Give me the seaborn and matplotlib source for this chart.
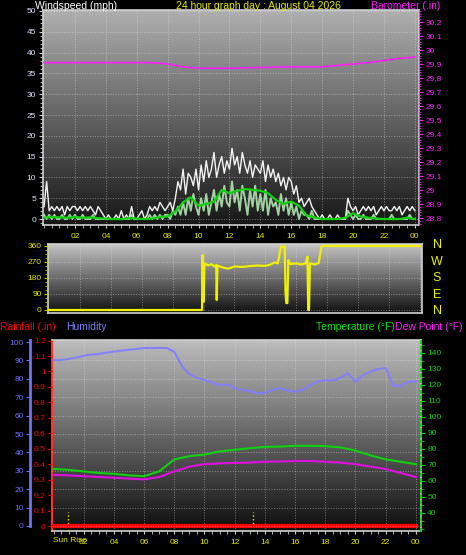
import numpy as np
import pandas as pd
import seaborn as sns
import matplotlib
matplotlib.use("Agg")
import matplotlib.pyplot as plt
from matplotlib.colors import LinearSegmentedColormap
from matplotlib.ticker import MultipleLocator

# wind speed, 10 minute samples from 00:00 to 24:00 (mph)
gust_mph = [3, 9, 2, 3, 2, 3,  2, 3, 1, 3, 2, 3,  3, 2, 3, 2, 3, 2,  3, 2, 1, 3, 2, 1,
            0, 1, 0, 0, 1, 0,  2, 0, 1, 0, 3, 0,  0, 1, 2, 0, 1, 3,  2, 3, 2, 4, 3, 2,
            3, 4, 2, 5, 9, 7,  12, 6, 11, 10, 8, 12,  7, 13, 9, 14, 10, 12,  16, 10, 13, 15, 11, 14,
            12, 17, 13, 15, 11, 16,  13, 11, 14, 10, 13, 12,  11, 14, 9, 13, 10, 12,  9, 11, 8, 10, 7, 10,
            9, 6, 8, 4, 5, 3,  4, 5, 3, 2, 1, 0,  1, 0, 0, 1, 0, 0,  1, 0, 0, 0, 5, 3,
            2, 3, 1, 2, 3, 2,  3, 2, 3, 1, 2, 3,  2, 3, 2, 2, 3, 2,  3, 1, 2, 3, 2, 3,  2]
avg_mph = [1, 0, 1, 0, 1, 0,  0, 1, 0, 0, 1, 0,  1, 0, 0, 1, 0, 0,  0, 1, 0, 0, 0, 0,
           0, 0, 0, 0, 0, 0,  0, 0, 0, 0, 1, 0,  0, 0, 0, 0, 0, 1,  0, 1, 0, 1, 0, 1,
           1, 0, 2, 1, 3, 1,  4, 1, 5, 2, 6, 3,  1, 5, 2, 6, 1, 4,  7, 2, 6, 3, 8, 4,
           3, 9, 4, 7, 2, 8,  5, 1, 7, 3, 8, 2,  6, 2, 7, 1, 5, 3,  4, 1, 6, 2, 5, 1,
           4, 1, 3, 0, 2, 1,  1, 0, 2, 0, 0, 0,  0, 0, 0, 0, 0, 0,  0, 0, 0, 0, 2, 1,
           0, 1, 0, 0, 1, 0,  0, 0, 1, 0, 0, 0,  0, 0, 0, 1, 0, 0,  0, 0, 0, 0, 1, 0,  0]
# 30 minute trend line (mph)
trend_mph = [0.3, 0.5, 0.4, 0.3, 0.5, 0.3, 0.4, 0.2, 0.1, 0.0, 0.0, 0.2, 0.1, 0.0, 0.1, 0.5,
             0.6, 1.8, 4.0, 5.2, 3.2, 3.6, 4.2, 7.0, 6.2, 6.8, 7.2, 7.0, 6.8, 6.2, 4.6, 3.6,
             4.2, 3.2, 0.8, 0.4, 0.0, 0.0, 0.0, 0.3, 1.4, 0.6, 0.3, 0.1, 0.0, 0.0, 0.0, 0.3, 0.0]

baro_hours = [0, 2, 4, 6, 7, 8, 9, 10, 11, 12, 14, 16, 18, 19, 20, 21, 22, 23, 24]
baro_in = [29.91, 29.91, 29.91, 29.91, 29.91, 29.90, 29.88, 29.87, 29.87, 29.87, 29.875,
           29.88, 29.88, 29.89, 29.90, 29.91, 29.925, 29.94, 29.95]

dir_hours = [0, 9.9, 9.93, 9.97, 10.0, 10.05, 10.1, 10.3, 10.5, 10.7, 10.82, 10.85, 10.9, 11.2,
             11.6, 12.0, 12.5, 13.0, 13.5, 14.0, 14.3, 14.6, 14.8, 14.87, 15.0, 15.25, 15.3,
             15.35, 15.42, 15.48, 15.6, 16.0, 16.3, 16.6, 16.72, 16.77, 16.82, 16.88, 17.2,
             17.45, 17.53, 17.64, 24]
dir_deg = [0, 0, 309, 120, 47, 240, 262, 250, 258, 245, 252, 56, 250, 240,
           232, 245, 242, 247, 250, 248, 255, 268, 262, 292, 356, 356, 100,
           39, 39, 280, 259, 262, 256, 262, 300, 0, 0, 262, 256,
           265, 309, 360, 360]

clim_hours = list(range(25))
temp_f = [67.5, 67, 66, 65, 64.5, 63.5, 63, 66, 73.5, 75.5, 76.5, 78.5, 79.5, 80.5, 81.3,
          81.5, 82, 82, 81.8, 81, 79, 76, 73.5, 72, 70.5]
dew_f = [63.8, 63.5, 63, 62.5, 62, 61.5, 61, 62.5, 66, 69, 70.5, 71, 71.3, 71.5, 72, 72.2,
         72.5, 72.5, 72, 71.5, 70.5, 69, 67.5, 65, 62.5]
hum_pct = [90.2, 90.2, 90.8, 91.5, 92.5, 93.2, 93.5, 94.2, 94.8, 95.3, 95.8, 96.2, 96.7, 96.7,
           96.8, 96.7, 94.7, 87, 82.5, 80.5, 79.3, 78, 76.5, 77, 75, 74, 73.5, 72, 72.5, 74,
           75, 73.5, 73, 74, 76.6, 78.5, 79.3, 79, 80.5, 83, 78.4, 82, 84, 85.3, 85.9, 76.5,
           76, 78.4, 78.4]
rain_hours = [0, 24]
rain_in = [0, 0]

hour_ticks = [2, 4, 6, 8, 10, 12, 14, 16, 18, 20, 22, 24]
hour_labels = ['02', '04', '06', '08', '10', '12', '14', '16', '18', '20', '22', '00']
sun_hours = [0.95, 13.2]

wind_hours = np.arange(len(gust_mph)) / 6
trend_hours = np.arange(len(trend_mph)) / 2
hum_hours = np.arange(len(hum_pct)) / 2

W, H = 466, 555
plt.rcParams['font.family'] = ['Liberation Sans', 'DejaVu Sans']
fig = plt.figure(figsize=(W / 100, H / 100), dpi=100, facecolor='black')

YEL = '#e8e800'
TS = 7.5


def box(l, t, r, b):
    return [l / W, 1 - b / H, (r - l) / W, (b - t) / H]


def shade(ax, top, bottom):
    cmap = LinearSegmentedColormap.from_list('bg', [bottom, top])
    grad = np.linspace(0, 1, 256).reshape(-1, 1)
    ax.imshow(grad, extent=[0, 1, 0, 1], transform=ax.transAxes, origin='lower',
              aspect='auto', cmap=cmap, zorder=0)


def frame(ax):
    ax.set_facecolor('black')
    for s in ax.spines.values():
        s.set_color('#d0d0d0')
        s.set_linewidth(1.2)
    ax.grid(True, color='#e8e8e8', linestyle=':', linewidth=0.7, alpha=0.45)
    ax.set_axisbelow(False)


# ---------------- wind speed / barometer ----------------
ax1 = fig.add_axes(box(42.5, 10, 419, 225))
shade(ax1, '#b0b0b0', '#161616')
frame(ax1)
sns.lineplot(x=wind_hours, y=gust_mph, ax=ax1, color='#f4f4f4', linewidth=1.0,
             estimator=None, legend=False, zorder=3)
sns.lineplot(x=wind_hours, y=avg_mph, ax=ax1, color='#b8f0b8', linewidth=1.4, alpha=0.85,
             estimator=None, legend=False, zorder=4)
sns.lineplot(x=trend_hours, y=trend_mph, ax=ax1, color='#10d010', linewidth=1.6,
             estimator=None, legend=False, zorder=5)
ax1.set_xlim(-0.1, 24.27)
ax1.set_ylim(-1.44, 50.24)
ax1.set_xticks(hour_ticks)
ax1.set_xticklabels(hour_labels)
ax1.xaxis.set_minor_locator(MultipleLocator(0.5))
ax1.yaxis.set_major_locator(MultipleLocator(5))
ax1.yaxis.set_minor_locator(MultipleLocator(1))
ax1.tick_params(axis='x', which='both', colors='#d0d0d0', labelcolor=YEL, labelsize=6,
                length=2, pad=4)
ax1.tick_params(axis='y', which='major', colors='#d0d0d0', labelcolor='#dde6ff',
                labelsize=6, length=3, pad=1.5)
ax1.tick_params(axis='y', which='minor', colors='#d0d0d0', length=2)
ax1.set_xlabel('')
ax1.set_ylabel('')

ax1b = ax1.twinx()
sns.lineplot(x=baro_hours, y=baro_in, ax=ax1b, color='#ff20ff', linewidth=1.2,
             estimator=None, legend=False)
ax1b.set_ylim(28.75, 30.286)
baro_ticks = np.round(np.arange(28.8, 30.25, 0.1), 1)
ax1b.set_yticks(baro_ticks)
ax1b.set_yticklabels([f'{v:g}' for v in baro_ticks])
ax1b.yaxis.set_minor_locator(MultipleLocator(0.02))
ax1b.tick_params(axis='y', which='major', colors='#ff20ff', labelsize=6, length=3, pad=1.5)
ax1b.tick_params(axis='y', which='minor', colors='#ff20ff', length=1.5)
ax1b.spines['right'].set_color('#ff20ff')
ax1b.spines['right'].set_linestyle(':')
for s in ['left', 'top', 'bottom']:
    ax1b.spines[s].set_visible(False)
ax1b.set_ylabel('')

fig.text(35 / W, 1 - 6 / H, 'Windspeed (mph)', color='white', fontsize=TS, va='center')
fig.text(258 / W, 1 - 6 / H, '24 hour graph day : August 04 2026', color=YEL, fontsize=TS,
         va='center', ha='center')
fig.text(440 / W, 1 - 6 / H, 'Barometer (.in)', color='#ff20ff', fontsize=TS, va='center',
         ha='right')

# ---------------- wind direction ----------------
ax2 = fig.add_axes(box(48, 244, 422, 313))
shade(ax2, '#c4c4c4', '#101010')
frame(ax2)
sns.lineplot(x=dir_hours, y=dir_deg, ax=ax2, color='#f0f000', linewidth=1.6,
             estimator=None, sort=False, legend=False, zorder=4)
ax2.set_xlim(-0.065, 24.13)
ax2.set_ylim(-16.9, 371)
ax2.set_yticks([0, 90, 180, 270, 360])
ax2.yaxis.set_minor_locator(MultipleLocator(22.5))
ax2.set_xticks(hour_ticks)
ax2.tick_params(axis='x', which='both', length=0, labelbottom=False)
ax2.tick_params(axis='y', which='major', colors='#c8c800', labelcolor=YEL, labelsize=6,
                length=3, pad=1.5)
ax2.tick_params(axis='y', which='minor', colors='#c8c800', length=2)
ax2.set_ylabel('')
for letter, ypix in zip(['N', 'W', 'S', 'E', 'N'], [245, 262, 278, 295, 311]):
    fig.text(437 / W, 1 - ypix / H, letter, color='#f0f000', fontsize=9, ha='center',
             va='center')

# ---------------- rain / humidity / temperature ----------------
ax3 = fig.add_axes(box(52, 340, 421, 531))
shade(ax3, '#bcbcbc', '#0e0e0e')
frame(ax3)
ax3h = ax3.twinx()
ax3t = ax3.twinx()

sns.lineplot(x=rain_hours, y=rain_in, ax=ax3, color='#ff0000', linewidth=3,
             estimator=None, legend=False, zorder=6)
for sh in sun_hours:
    ax3.axvline(sh, ymin=0.0, ymax=0.1, color=YEL, linestyle=':', linewidth=1, zorder=5)
ax3.set_xlim(-0.1, 24.34)
ax3.set_ylim(-0.032, 1.2036)
ax3.set_xticks(hour_ticks)
ax3.set_xticklabels(hour_labels)
ax3.xaxis.set_minor_locator(MultipleLocator(0.5))
rain_ticks = np.round(np.arange(0, 1.25, 0.1), 1)
ax3.set_yticks(rain_ticks)
ax3.set_yticklabels([f'{v:g}' for v in rain_ticks])
ax3.tick_params(axis='x', which='both', colors='#d0d0d0', labelcolor=YEL, labelsize=6,
                length=2, pad=4)
ax3.tick_params(axis='y', colors='#ff0000', labelsize=6, length=3, pad=1.5)
ax3.spines['left'].set_color('#ff3030')
ax3.spines['left'].set_linestyle((0, (2, 1)))
ax3.spines['left'].set_linewidth(1.5)
ax3.set_ylabel('')
ax3.yaxis.grid(False)

sns.lineplot(x=hum_hours, y=hum_pct, ax=ax3h, color='#8080ff', linewidth=1.4,
             estimator=None, legend=False)
ax3h.set_ylim(-2.72, 101.09)
ax3h.set_yticks(range(0, 101, 10))
ax3h.yaxis.set_ticks_position('left')
ax3h.yaxis.set_label_position('left')
ax3h.spines['left'].set_position(('axes', (30 - 52) / 369))
ax3h.spines['left'].set_color('#7070ff')
ax3h.spines['left'].set_linewidth(2)
ax3h.spines['left'].set_bounds(0, 101.09)
for s in ['right', 'top', 'bottom']:
    ax3h.spines[s].set_visible(False)
ax3h.tick_params(axis='y', colors='#7070ff', labelsize=6, length=3, pad=1.5)
ax3h.grid(True, axis='y', color='#e8e8e8', linestyle=':', linewidth=0.7, alpha=0.45)
ax3h.set_ylabel('')

sns.lineplot(x=clim_hours, y=temp_f, ax=ax3t, color='#10d010', linewidth=1.5,
             estimator=None, legend=False)
sns.lineplot(x=clim_hours, y=dew_f, ax=ax3t, color='#e010e0', linewidth=1.5,
             estimator=None, legend=False)
ax3t.set_ylim(28.75, 148.1)
ax3t.set_yticks(range(40, 141, 10))
ax3t.yaxis.set_minor_locator(MultipleLocator(5))
ax3t.tick_params(axis='y', which='major', colors='#10d010', labelsize=6, length=3, pad=1.5)
ax3t.tick_params(axis='y', which='minor', colors='#10d010', length=2)
ax3t.spines['right'].set_color('#10d010')
ax3t.spines['right'].set_linestyle(':')
ax3t.spines['right'].set_linewidth(1.5)
for s in ['left', 'top', 'bottom']:
    ax3t.spines[s].set_visible(False)
ax3t.set_ylabel('')

fig.text(0, 1 - 327 / H, 'Rainfall (.in)', color='#ff0000', fontsize=TS, va='center')
fig.text(66 / W, 1 - 327 / H, 'Humidity', color='#8080ff', fontsize=TS, va='center')
fig.text(395 / W, 1 - 327 / H, 'Temperature (°F)', color='#10e010', fontsize=TS,
         va='center', ha='right')
fig.text(463 / W, 1 - 327 / H, 'Dew Point (°F)', color='#ff20ff', fontsize=TS, va='center',
         ha='right')
fig.text(53 / W, 1 - 541 / H, 'Sun Rise', color=YEL, fontsize=6, va='center')

fig.savefig('out.png', dpi=100, facecolor='black')
